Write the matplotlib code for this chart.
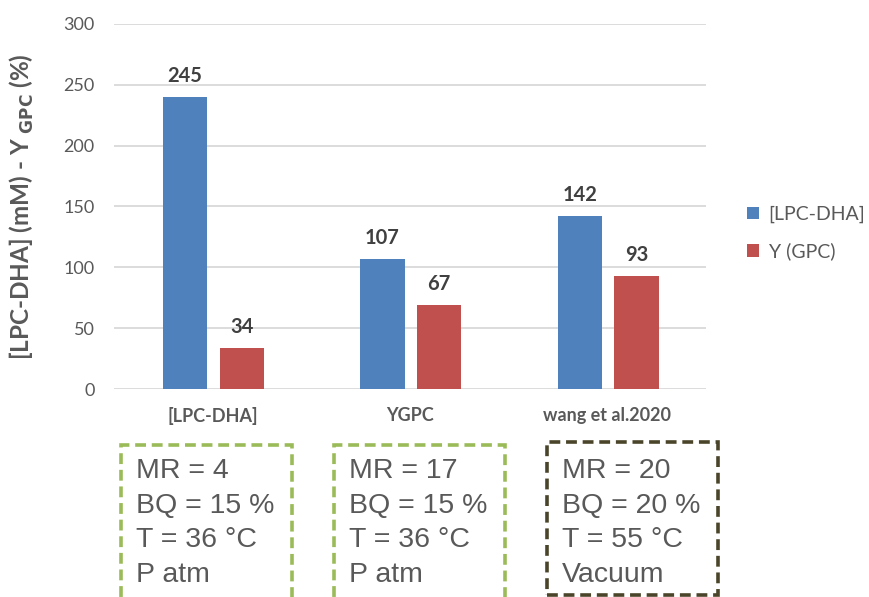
import matplotlib.pyplot as plt
from matplotlib.patches import Rectangle
import numpy as np

# = = = data = = =
categories = ['[LPC-DHA]', 'YGPC', 'wang et al.2020']
lpc_dha = [240, 107, 142]      # bar heights
y_gpc = [34, 69, 93]
lpc_labels = ['245', '107', '142']   # printed labels (differ slightly from bars)
gpc_labels = ['34', '67', '93']
conditions = [['MR = 4', 'BQ = 15 %', 'T = 36 °C', 'P atm'],
              ['MR = 17', 'BQ = 15 %', 'T = 36 °C', 'P atm'],
              ['MR = 20', 'BQ = 20 %', 'T = 55 °C', 'Vacuum']]
box_colors = ['#9BBB59', '#9BBB59', '#4A452A']
series_names = ['[LPC-DHA]', 'Y (GPC)']
blue = '#4F81BD'
red = '#C0504D'
grey = '#595959'

# = = = figure = = =
W, H = 869, 597
fig = plt.figure(figsize=(W / 100, H / 100), dpi=100)
ax = fig.add_axes([114 / W, 1 - 389 / H, 592 / W, 365 / H])

x = np.arange(len(categories))
bw = 0.225
b1 = ax.bar(x - 0.14, lpc_dha, bw, color=blue, zorder=3)
b2 = ax.bar(x + 0.148, y_gpc, bw, color=red, zorder=3)

for bars, labs in ((b1, lpc_labels), (b2, gpc_labels)):
    for r, lab in zip(bars, labs):
        ax.annotate(lab, (r.get_x() + r.get_width() / 2, r.get_height()),
                    xytext=(0, 8), textcoords='offset points', ha='center', va='bottom',
                    fontsize=14.5, fontweight='bold', color='#404040', family='Lato')

ax.set_xlim(-0.5, 2.5)
ax.set_ylim(0, 300)
ax.set_yticks(range(0, 301, 50))
ax.yaxis.grid(True, color='#D9D9D9', linewidth=1.3, zorder=0)
for s in ax.spines.values():
    s.set_visible(False)
ax.tick_params(axis='both', length=0, colors=grey, labelsize=13)
ax.tick_params(axis='y', pad=14)
ax.tick_params(axis='x', pad=13)
ax.set_xticks(x)
ax.set_xticklabels(categories, fontweight='bold', family='Lato', fontsize=13)
for t in ax.get_yticklabels():
    t.set_family('Lato')

fig.text(22 / W, 1 - 207 / H, r'[LPC-DHA] (mM) - Y $_{\mathbf{GPC}}$ (%)', rotation=90,
         ha='center', va='center', fontsize=17.5, fontweight='bold', color=grey, family='Lato')

# legend
leg = ax.legend([b1, b2], series_names, loc='center left', bbox_to_anchor=(1.04, 0.427),
                frameon=False, handlelength=0.6, handleheight=0.6, handletextpad=0.5,
                labelspacing=1.0, prop={'family': 'Lato', 'size': 14})
for t in leg.get_texts():
    t.set_color(grey)

# condition boxes below the chart
box_left = [121, 334, 547]
box_top = [445, 445, 442]
box_bottom = [605, 605, 595]
for i in range(3):
    x0 = box_left[i] / W
    y0 = 1 - box_bottom[i] / H
    w = 171 / W
    h = (box_bottom[i] - box_top[i]) / H
    fig.patches.append(Rectangle((x0, y0), w, h, transform=fig.transFigure, fill=False,
                                 edgecolor=box_colors[i], linewidth=2.6,
                                 linestyle=(0, (3, 1.6)), clip_on=False))
    for j, line in enumerate(conditions[i]):
        fig.text((box_left[i] + 15) / W, 1 - (471 + 34.5 * j) / H, line, ha='left', va='center',
                 fontsize=20.5, color=grey, family='Liberation Sans')

fig.savefig('out.png', dpi=100)
